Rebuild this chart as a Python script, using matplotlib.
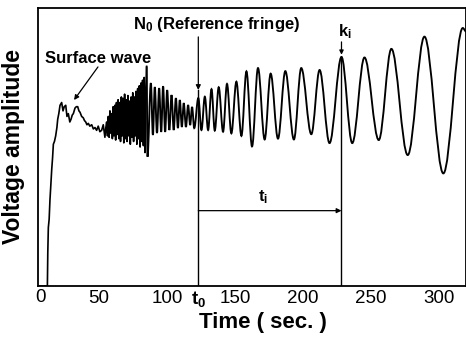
import matplotlib
matplotlib.use('Agg')
import matplotlib.pyplot as plt
from matplotlib.path import Path
from matplotlib.patches import PathPatch
import matplotlib.transforms as mtransforms

plt.rcParams['font.family'] = ['Liberation Sans', 'DejaVu Sans']
plt.rcParams['mathtext.fontset'] = 'custom'
plt.rcParams['mathtext.rm'] = 'Liberation Sans'
plt.rcParams['mathtext.bf'] = 'Liberation Sans:bold'
plt.rcParams['mathtext.default'] = 'bf'

# onset + surface wave (time in s, amplitude in arbitrary units)
time_early = [5.1, 12.0, 12.3, 12.7, 13.3, 13.9, 14.5, 15.2, 15.8, 16.4,
              17.2, 18.1, 19.0, 19.6, 20.4, 21.3, 22.5, 23.5, 24.4, 25.5,
              26.4, 27.4, 28.5, 29.4, 30.3, 31.1, 32.3, 33.3, 34.3, 35.2,
              36.0, 37.2, 38.4, 39.3, 40.2, 41.1, 42.1, 43.2, 44.6, 45.8,
              47.0, 48.2, 49.4, 50.6, 51.9, 53.1, 54.3, 55.0, 55.6]
amp_early = [0, 0, 12, 21, 24, 31, 36, 42, 46, 51,
             52, 54, 57, 60, 62, 65, 66, 63, 64.5, 65,
             61, 62, 59, 60, 61.5, 62, 64, 64.5, 64.5, 63,
             62.5, 61, 60.5, 59.5, 59, 58, 58.5, 57.5, 58, 56.5,
             57, 56, 57.5, 55.5, 56, 58, 53.5, 57, 59]

# dense noisy burst
time_burst = [56.2, 56.8, 57.4, 58.0, 58.6, 59.2, 59.8, 60.4, 61.0, 61.6,
              62.2, 62.8, 63.4, 64.0, 64.6, 65.2, 65.8, 66.4, 67.0, 67.6,
              68.2, 68.8, 69.4, 70.0, 70.6, 71.2, 71.8, 72.4, 73.0, 73.6,
              74.2, 74.8, 75.4, 76.0, 76.6, 77.2, 77.8, 78.4, 79.0, 79.6,
              80.2, 80.8, 81.4, 82.0, 82.6, 83.2, 83.8, 84.4]
amp_burst = [54, 61, 53.5, 63, 55, 62, 53, 64.5, 54, 65,
             52.5, 66, 54.5, 67, 53, 66, 52, 68, 54, 67.5,
             51.5, 69, 53, 67, 52, 68.5, 54, 66.5, 51, 68,
             53.5, 69.5, 52, 68, 54, 70, 51, 71, 53, 72,
             50, 73, 52, 74, 50.5, 75, 48, 70]

# fringes: alternating peaks and troughs
time_fringe = [85.0, 85.6, 88.1, 89.6, 91.0, 92.6, 94.2, 95.7, 97.1, 98.6,
               100.1, 101.7, 103.3, 104.9, 106.5, 108.0, 109.4, 110.9, 112.3, 113.9,
               115.5, 117.0, 118.4, 120.0, 123.0, 125.3, 127.8, 130.2, 132.7, 135.1,
               138.0, 141.2, 144.1, 147.3, 151.0, 154.7, 158.4, 162.5, 166.9, 171.8,
               176.2, 181.6, 187.0, 193.3, 198.7, 206.1, 212.2, 219.5, 228.3, 236.2,
               245.2, 255.7, 265.0, 277.0, 289.3, 303.2, 317.5, 320.0]
amp_fringe = [79, 46.5, 73, 54.3, 71.6, 55.0, 71.2, 55.4, 71.9, 55.4,
              70.5, 56.1, 68.7, 56.1, 67.6, 56.8, 66.9, 57.2, 65.8, 57.2,
              65.1, 57.9, 64.4, 56.8, 67.6, 56.1, 68.1, 56.1, 70.8, 55.9,
              71.5, 55.5, 72.7, 54.9, 73.5, 54.0, 77.2, 50.2, 78.4, 52.7,
              76.4, 53.0, 77.3, 52.7, 78.4, 54.6, 77.7, 51.4, 82.4, 51.4,
              82.2, 52.5, 85.3, 47.1, 89.7, 40.5, 92.8, 91.5]

t0 = 123.0   # reference fringe N0
ki = 228.3   # fringe k_i
x_ticks = [50, 100, 150, 200, 250, 300]


def smooth_path(xs, ys):
    # cubic segments with flat tangents at each peak / trough
    verts = [(xs[0], ys[0])]
    codes = [Path.MOVETO]
    for i in range(1, len(xs)):
        d = 0.36 * (xs[i] - xs[i - 1])
        verts += [(xs[i - 1] + d, ys[i - 1]), (xs[i] - d, ys[i]), (xs[i], ys[i])]
        codes += [Path.CURVE4] * 3
    return Path(verts, codes)


def plot():
    fig = plt.figure(figsize=(4.66, 3.39), dpi=100)
    ax = fig.add_axes([38 / 466, 53 / 339, 427.5 / 466, 278 / 339])

    ax.plot(time_early + time_burst + time_fringe[:1],
            amp_early + amp_burst + amp_fringe[:1], color='black', lw=1.2)
    ax.add_patch(PathPatch(smooth_path(time_fringe, amp_fringe),
                           facecolor='none', edgecolor='black', lw=1.35))

    ax.set_xlim(5.1, 319.5)
    ax.set_ylim(0, 100)
    ax.set_xticks(x_ticks)
    ax.set_yticks([])
    ax.tick_params(axis='x', length=0, pad=3, labelsize=13.5)
    for s in ax.spines.values():
        s.set_linewidth(1.3)

    # extra labels along the time axis
    trans = mtransforms.blended_transform_factory(ax.transData, ax.transAxes)
    ax.text(6.6, -0.012, '0', transform=trans, ha='center', va='top', fontsize=13.5)
    ax.text(t0, -0.012, 't$_0$', transform=trans, ha='center', va='top',
            fontsize=13.5, fontweight='bold')

    ax.set_xlabel('Time ( sec. )', fontsize=16, fontweight='bold')
    ax.xaxis.set_label_coords(0.526, -0.095)
    ax.set_ylabel('Voltage amplitude', fontsize=16.5, fontweight='bold')
    ax.yaxis.set_label_coords(-0.03, 0.5)

    # surface wave
    ax.text(49.2, 81.7, 'Surface wave', ha='center', va='center',
            fontsize=12, fontweight='bold')
    ax.annotate('', xy=(31.6, 66.9), xytext=(49.2, 78.8),
                arrowprops=dict(arrowstyle='-|>', color='black', lw=0.9,
                                mutation_scale=7, shrinkA=0, shrinkB=0))

    # reference fringe
    ax.text(136.6, 94.2, 'N$_0$ (Reference fringe)', ha='center', va='center',
            fontsize=12, fontweight='bold')
    ax.annotate('', xy=(t0, 70.5), xytext=(t0, 89.6),
                arrowprops=dict(arrowstyle='-|>', color='black', lw=0.9,
                                mutation_scale=7, shrinkA=0, shrinkB=0))
    ax.plot([t0, t0], [0, 70.5], color='black', lw=1.0)

    # fringe k_i
    ax.text(230.5, 91.4, 'k$_i$', ha='center', va='center',
            fontsize=12, fontweight='bold')
    ax.annotate('', xy=(ki, 83.2), xytext=(ki, 87.8),
                arrowprops=dict(arrowstyle='-|>', color='black', lw=0.9,
                                mutation_scale=6, shrinkA=0, shrinkB=0))
    ax.plot([ki, ki], [0, 82.4], color='black', lw=1.0)

    # time interval t_i
    ax.annotate('', xy=(ki, 27.1), xytext=(t0, 27.1),
                arrowprops=dict(arrowstyle='-|>', color='black', lw=0.9,
                                mutation_scale=7, shrinkA=0, shrinkB=0))
    ax.text(170.3, 32, 't$_i$', ha='center', va='center',
            fontsize=12, fontweight='bold')

    fig.savefig('out.png', dpi=100)


def main():
    plot()


if __name__ == '__main__':
    main()
